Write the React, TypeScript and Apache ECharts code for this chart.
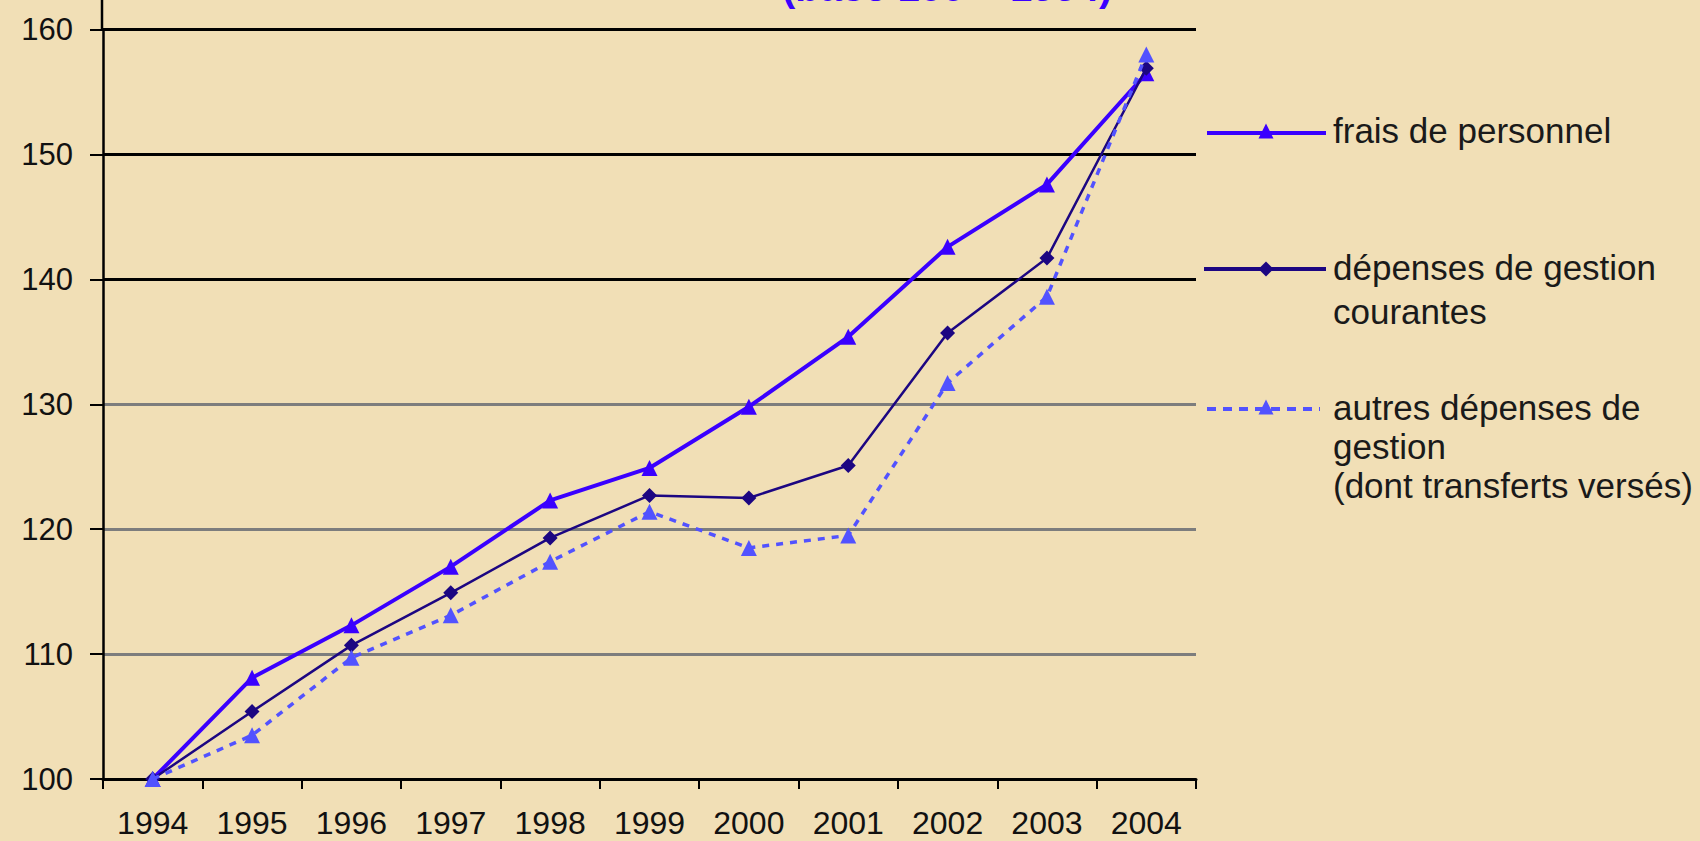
import React, { useEffect, useRef } from "react";
import * as echarts from "echarts";

const years = ["1994", "1995", "1996", "1997", "1998", "1999", "2000", "2001", "2002", "2003", "2004"];
const fraisDePersonnel = [100, 108.1, 112.3, 117.0, 122.3, 124.9, 129.8, 135.4, 142.6, 147.6, 156.5];
const depensesGestionCourantes = [100, 105.4, 110.7, 114.9, 119.3, 122.7, 122.5, 125.1, 135.7, 141.7, 156.9];
const autresDepensesGestion = [100, 103.5, 109.7, 113.1, 117.4, 121.4, 118.5, 119.5, 131.7, 138.6, 158.0];
const seriesNames = [
  "frais de personnel",
  "dépenses de gestion\ncourantes",
  "autres dépenses de\ngestion\n(dont transferts versés)",
];
const yMin = 100;
const yMax = 160;
const yStep = 10;
const partialTitle = "(base 100 = 1994)";

const C_FRAIS = "#3a00ff";
const C_DEP = "#1c0682";
const C_AUTRES = "#5252ff";

export default function App() {
  const ref = useRef<HTMLDivElement>(null);
  useEffect(() => {
    document.body.style.margin = "0";
    const chart = echarts.init(ref.current!, undefined, { renderer: "svg" });
    const tri = (cx: number, cy: number, s: number) => [
      [cx, cy - s / 2],
      [cx + s / 2, cy + s / 2],
      [cx - s / 2, cy + s / 2],
    ];
    const dia = (cx: number, cy: number, s: number) => [
      [cx, cy - s / 2],
      [cx + s / 2, cy],
      [cx, cy + s / 2],
      [cx - s / 2, cy],
    ];
    const font = "'Liberation Sans', Arial, sans-serif";
    chart.setOption({
      animation: false,
      backgroundColor: "#f1dfb6",
      grid: { left: 103, right: 504, top: 29.5, bottom: 62, containLabel: false },
      xAxis: {
        type: "category",
        data: years,
        boundaryGap: true,
        axisLine: { show: true, lineStyle: { color: "#000", width: 3 } },
        axisTick: { show: true, length: 10, lineStyle: { color: "#000", width: 2 } },
        axisLabel: { color: "#111", fontSize: 32, fontFamily: font, margin: 28 },
        splitLine: { show: false },
        z: 2,
      },
      yAxis: {
        type: "value",
        min: yMin,
        max: yMax,
        interval: yStep,
        axisLine: { show: true, lineStyle: { color: "#000", width: 2.5 } },
        axisTick: { show: true, length: 13, lineStyle: { color: "#000", width: 2 } },
        axisLabel: { color: "#111", fontSize: 31, fontFamily: font, margin: 30 },
        splitLine: {
          show: true,
          lineStyle: {
            color: ["#000", "#7d7d7d", "#7d7d7d", "#7d7d7d", "#000", "#000", "#000"],
            width: 3,
          },
        },
      },
      series: [
        {
          name: seriesNames[0],
          type: "line",
          data: fraisDePersonnel,
          symbol: "triangle",
          symbolSize: 16,
          lineStyle: { color: C_FRAIS, width: 4 },
          itemStyle: { color: C_FRAIS },
          z: 3,
        },
        {
          name: seriesNames[1],
          type: "line",
          data: depensesGestionCourantes,
          symbol: "diamond",
          symbolSize: 15,
          lineStyle: { color: C_DEP, width: 2.5 },
          itemStyle: { color: C_DEP },
          z: 4,
        },
        {
          name: seriesNames[2],
          type: "line",
          data: autresDepensesGestion,
          symbol: "triangle",
          symbolSize: 16,
          lineStyle: { color: C_AUTRES, width: 3.5, type: [7, 7] },
          itemStyle: { color: C_AUTRES },
          z: 5,
        },
      ],
      graphic: [
        { type: "line", shape: { x1: 102, y1: 0, x2: 102, y2: 30 }, style: { stroke: "#000", lineWidth: 2.5 } },
        {
          type: "text",
          x: 782,
          y: 7,
          style: { text: partialTitle, fill: "#3a00ff", font: `bold 40px ${font}`, verticalAlign: "bottom", align: "left" },
        },
        // legend item 1
        { type: "line", shape: { x1: 1207, y1: 133, x2: 1326, y2: 133 }, style: { stroke: C_FRAIS, lineWidth: 4 } },
        { type: "polygon", shape: { points: tri(1266, 131, 15) }, style: { fill: C_FRAIS } },
        {
          type: "text",
          x: 1333,
          y: 130,
          style: { text: seriesNames[0], fill: "#1a1a1a", font: `35px ${font}`, verticalAlign: "middle" },
        },
        // legend item 2
        { type: "line", shape: { x1: 1204, y1: 269, x2: 1326, y2: 269 }, style: { stroke: C_DEP, lineWidth: 4 } },
        { type: "polygon", shape: { points: dia(1266, 269, 15) }, style: { fill: C_DEP } },
        {
          type: "text",
          x: 1333,
          y: 245,
          style: { text: seriesNames[1], fill: "#1a1a1a", font: `35px ${font}`, lineHeight: 44, verticalAlign: "top" },
        },
        // legend item 3
        {
          type: "line",
          shape: { x1: 1207, y1: 409, x2: 1320, y2: 409 },
          style: { stroke: C_AUTRES, lineWidth: 4, lineDash: [9, 7] },
        },
        { type: "polygon", shape: { points: tri(1266, 407, 15) }, style: { fill: C_AUTRES } },
        {
          type: "text",
          x: 1333,
          y: 388,
          style: { text: seriesNames[2], fill: "#1a1a1a", font: `35px ${font}`, lineHeight: 39, verticalAlign: "top" },
        },
      ],
    });
    return () => chart.dispose();
  }, []);
  return (
    <div
      ref={ref}
      style={{ position: "absolute", left: 0, top: 0, width: 1700, height: 841, overflow: "hidden" }}
    />
  );
}
